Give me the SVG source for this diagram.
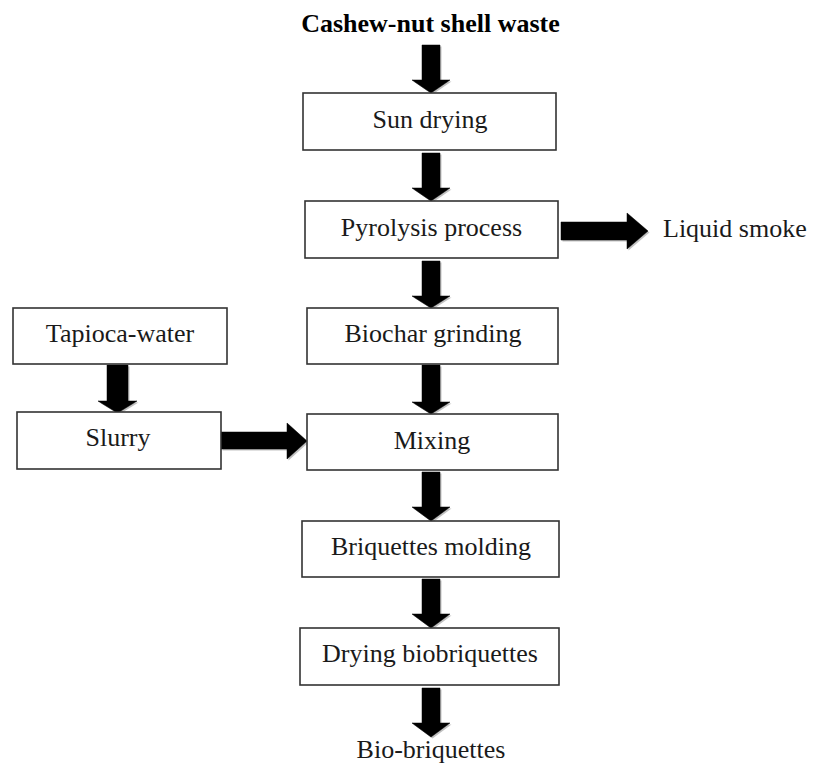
<svg xmlns="http://www.w3.org/2000/svg" width="813" height="764" viewBox="0 0 813 764">
<style>
.box{fill:#fff;stroke:#333;stroke-width:1.6}
.t{font-family:"Liberation Serif","Times New Roman",serif;font-size:26px;fill:#1a1a1a;text-anchor:middle}
.tl{font-family:"Liberation Serif","Times New Roman",serif;font-size:26px;fill:#1a1a1a}
.title{font-family:"Liberation Serif","Times New Roman",serif;font-size:26px;font-weight:bold;fill:#000;text-anchor:middle}
.arr{fill:#000;stroke:#000;stroke-width:0.5;stroke-linejoin:miter}
.sh{fill:#999;opacity:0.6}
</style>
<rect width="813" height="764" fill="#fff"/>
<g id="connectors">
  <g class="sh" transform="translate(1.5,1.5)">
    <polygon points="422,45 440,45 440,80 450,80 431,93 412,80 422,80"/>
    <polygon points="422,153 440,153 440,188 450,188 431,201 412,188 422,188"/>
    <polygon points="422,261 440,261 440,296 450,296 431,308 412,296 422,296"/>
    <polygon points="422,365 440,365 440,402 450,402 431,414 412,402 422,402"/>
    <polygon points="422,472 440,472 440,507 450,507 431,521 412,507 422,507"/>
    <polygon points="422,579 440,579 440,614 450,614 431,628 412,614 422,614"/>
    <polygon points="422,688 440,688 440,723 450,723 431,737 412,723 422,723"/>
    <polygon points="107,365 128,365 128,401 137,401 117.5,413 98,401 107,401"/>
    <polygon points="221,432 287,432 287,423 307,441 287,459 287,449 221,449"/>
    <polygon points="561,222 627,222 627,213 648,231 627,249 627,240 561,240"/>
  </g>
  <polygon class="arr" points="422,45 440,45 440,80 450,80 431,93 412,80 422,80"/>
  <polygon class="arr" points="422,153 440,153 440,188 450,188 431,201 412,188 422,188"/>
  <polygon class="arr" points="422,261 440,261 440,296 450,296 431,308 412,296 422,296"/>
  <polygon class="arr" points="422,365 440,365 440,402 450,402 431,414 412,402 422,402"/>
  <polygon class="arr" points="422,472 440,472 440,507 450,507 431,521 412,507 422,507"/>
  <polygon class="arr" points="422,579 440,579 440,614 450,614 431,628 412,614 422,614"/>
  <polygon class="arr" points="422,688 440,688 440,723 450,723 431,737 412,723 422,723"/>
  <polygon class="arr" points="107,365 128,365 128,401 137,401 117.5,413 98,401 107,401"/>
  <polygon class="arr" points="221,432 287,432 287,423 307,441 287,459 287,449 221,449"/>
  <polygon class="arr" points="561,222 627,222 627,213 648,231 627,249 627,240 561,240"/>
</g>
<g id="n-cashew"><text class="title" x="430.5" y="31.5">Cashew-nut shell waste</text></g>
<g id="n-sun"><rect class="box" x="303" y="93" width="253" height="57"/><text class="t" x="430" y="127.5">Sun drying</text></g>
<g id="n-pyro"><rect class="box" x="305" y="201" width="253" height="57"/><text class="t" x="431.5" y="235.5">Pyrolysis process</text></g>
<g id="n-liquid"><text class="tl" x="663" y="237">Liquid smoke</text></g>
<g id="n-tapioca"><rect class="box" x="13" y="308" width="214" height="56"/><text class="t" x="120" y="342">Tapioca-water</text></g>
<g id="n-biochar"><rect class="box" x="307" y="308" width="251" height="56"/><text class="t" x="433" y="342">Biochar grinding</text></g>
<g id="n-slurry"><rect class="box" x="17" y="412" width="204" height="57"/><text class="t" x="118" y="446">Slurry</text></g>
<g id="n-mixing"><rect class="box" x="307" y="414" width="251" height="56"/><text class="t" x="432" y="449">Mixing</text></g>
<g id="n-molding"><rect class="box" x="302" y="521" width="257" height="56"/><text class="t" x="431" y="555">Briquettes molding</text></g>
<g id="n-drying"><rect class="box" x="300" y="628" width="259" height="57"/><text class="t" x="430" y="662">Drying biobriquettes</text></g>
<g id="n-bio"><text class="t" x="431" y="758">Bio-briquettes</text></g>
</svg>
